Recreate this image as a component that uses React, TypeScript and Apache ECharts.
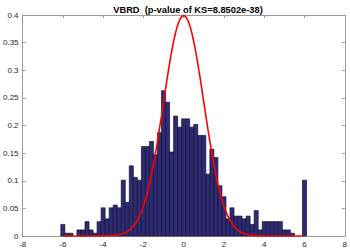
import React, { useEffect, useRef } from "react";
import * as echarts from "echarts";

const binCenters = [
  -6.0, -5.8, -5.6, -5.4, -5.2, -5.0, -4.8, -4.6, -4.4, -4.2, -4.0, -3.8, -3.6, -3.4, -3.2,
  -3.0, -2.8, -2.6, -2.4, -2.2, -2.0, -1.8, -1.6, -1.4, -1.2, -1.0, -0.8, -0.6, -0.4, -0.2,
  0.0, 0.2, 0.4, 0.6, 0.8, 1.0, 1.2, 1.4, 1.6, 1.8, 2.0, 2.2, 2.4, 2.6, 2.8,
  3.0, 3.2, 3.4, 3.6, 3.8, 4.0, 4.2, 4.4, 4.6, 4.8, 5.0, 5.2, 5.4, 5.6, 5.8, 6.0,
];

const binDensity = [
  0.021, 0.005, 0.005, 0, 0.011, 0.011, 0.026, 0.011, 0.005, 0.026, 0.051, 0.031, 0.051, 0.056, 0.051,
  0.101, 0.061, 0.127, 0.106, 0.101, 0.162, 0.162, 0.171, 0.147, 0.187, 0.263, 0.242, 0.152, 0.217, 0.197,
  0.212, 0.212, 0.197, 0.202, 0.182, 0.182, 0.112, 0.157, 0.142, 0.091, 0.071, 0.031, 0.051, 0.036, 0.036,
  0.031, 0.036, 0.021, 0.046, 0.011, 0.026, 0.026, 0.026, 0.026, 0.026, 0.011, 0.011, 0.005, 0, 0, 0.101,
];

const curveDensity = [
  0, 0, 0, 0, 0, 0, 0, 0, 0, 0, 0.0001, 0.0003, 0.0006, 0.0012, 0.0024,
  0.0044, 0.0079, 0.0136, 0.0224, 0.0355, 0.054, 0.079, 0.1109, 0.1497, 0.1942, 0.242, 0.2897, 0.3332, 0.3683, 0.391,
  0.3989, 0.391, 0.3683, 0.3332, 0.2897, 0.242, 0.1942, 0.1497, 0.1109, 0.079, 0.054, 0.0355, 0.0224, 0.0136, 0.0079,
  0.0044, 0.0024, 0.0012, 0.0006, 0.0003, 0.0001, 0, 0, 0, 0, 0, 0, 0, 0, 0, 0,
];

const binWidth = 0.2;
const titleText = "VBRD  (p-value of KS=8.8502e-38)";

export default function App() {
  const ref = useRef<HTMLDivElement>(null);

  useEffect(() => {
    if (!ref.current) return;
    const chart = echarts.init(ref.current, undefined, { renderer: "svg" });
    const axisColor = "#9a9a9a";
    const labelColor = "#262626";
    const font = "'Liberation Sans', Arial, Helvetica, sans-serif";

    const baseX = {
      type: "value" as const,
      min: -8,
      max: 8,
      interval: 2,
      splitLine: { show: false },
      axisLine: { show: true, onZero: false, lineStyle: { color: axisColor, width: 1 } },
      axisTick: { show: true, inside: true, length: 3, lineStyle: { color: axisColor } },
    };
    const baseY = {
      type: "value" as const,
      min: 0,
      max: 0.4,
      interval: 0.05,
      splitLine: { show: false },
      axisLine: { show: true, onZero: false, lineStyle: { color: axisColor, width: 1 } },
      axisTick: { show: true, inside: true, length: 3, lineStyle: { color: axisColor } },
    };

    chart.setOption({
      animation: false,
      textStyle: { fontFamily: font },
      title: {
        text: titleText,
        left: 183,
        top: 0,
        textAlign: "center",
        textStyle: { fontSize: 9.3, fontWeight: "bold", color: "#000", fontFamily: font },
      },
      grid: { left: 20, right: 4, top: 15, bottom: 14, containLabel: false },
      xAxis: [
        {
          ...baseX,
          position: "bottom",
          axisLabel: { show: true, fontSize: 8, color: labelColor, margin: 4, fontFamily: font },
        },
        { ...baseX, position: "top", axisLabel: { show: false } },
      ],
      yAxis: [
        {
          ...baseY,
          position: "left",
          axisLabel: { show: true, fontSize: 8, color: labelColor, margin: 4, fontFamily: font },
        },
        { ...baseY, position: "right", axisLabel: { show: false } },
      ],
      series: [
        {
          type: "custom",
          xAxisIndex: 0,
          yAxisIndex: 0,
          data: binCenters.map((c, i) => [c, binDensity[i]]),
          renderItem: (params: any, api: any) => {
            const x = api.value(0);
            const y = api.value(1);
            if (!y) return null;
            const p1 = api.coord([x - binWidth / 2, y]);
            const p2 = api.coord([x + binWidth / 2, 0]);
            return {
              type: "rect",
              shape: { x: p1[0], y: p1[1], width: p2[0] - p1[0], height: p2[1] - p1[1] },
              style: { fill: "#2f2a78", stroke: "#141428", lineWidth: 0.7 },
            };
          },
        },
        {
          type: "line",
          xAxisIndex: 0,
          yAxisIndex: 0,
          data: binCenters.map((c, i) => [c, curveDensity[i]]),
          showSymbol: false,
          symbol: "none",
          smooth: 0.3,
          lineStyle: { color: "#ff0000", width: 1.6 },
          z: 5,
        },
      ],
    });
    return () => chart.dispose();
  }, []);

  return (
    <div
      ref={ref}
      style={{ position: "fixed", left: 0, top: 0, width: 350, height: 250, background: "#fff" }}
    />
  );
}
